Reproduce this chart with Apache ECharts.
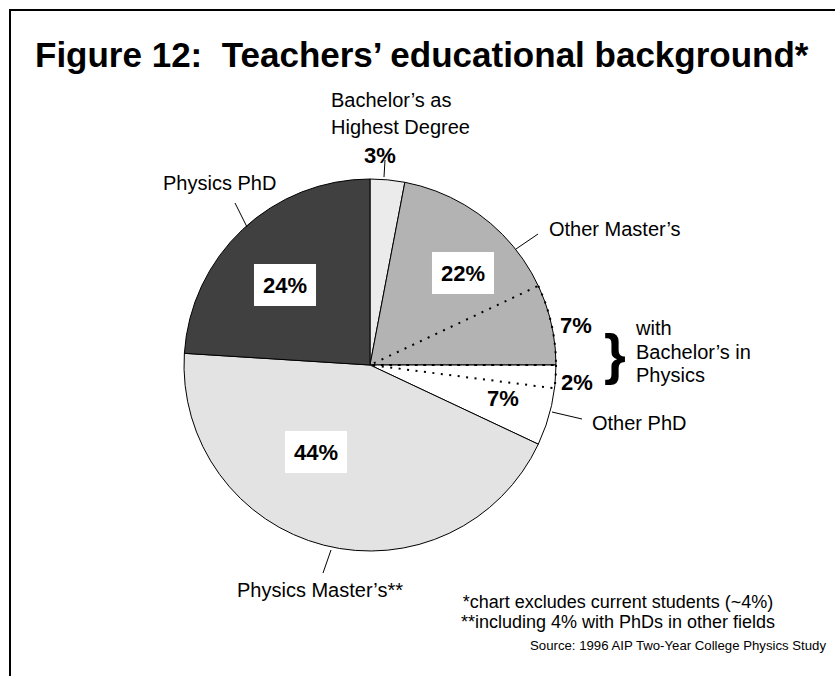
<!DOCTYPE html>
<html>
<head>
<meta charset="utf-8">
<script src="https://cdn.jsdelivr.net/npm/echarts@6/dist/echarts.min.js"></script>
<style>
  html, body { margin: 0; padding: 0; background: #fff; }
  #chart { width: 835px; height: 676px; }
</style>
</head>
<body>
<div id="chart"></div>
<script>
// data, clockwise from 12 o'clock
const categories = ["Bachelor's as Highest Degree", "Other Master's", "Other PhD", "Physics Master's**", "Physics PhD"];
const shares = [3, 22, 7, 44, 24];
// part of each group that holds a bachelor's in physics
const withPhysicsBachelors = [0, 7, 2, 0, 0];
const sliceColors = ['#ebebeb', '#b3b3b3', '#ffffff', '#e3e3e3', '#404040'];

const FONT = '"Liberation Sans", Arial, sans-serif';

// where the percentage labels go (px)
const pctPos = [[380, 155], [463, 273], [503, 398], [316, 452], [285, 285]];
const boxed = [false, true, false, true, true];
const subPos = { 2: [576, 325], 3: [577, 382] };

// dotted split: other master's part sits at the end, other phd part at the start
let dotted = [];
let dottedShow = [];
shares.forEach((v, i) => {
    let p = withPhysicsBachelors[i];
    if (!p) { dotted.push(v); dottedShow.push(false); }
    else if (i === 1) { dotted.push(v - p, p); dottedShow.push(false, true); }
    else { dotted.push(p, v - p); dottedShow.push(true, false); }
});

let chartDom = document.getElementById('chart');
let myChart = echarts.init(chartDom, null, { renderer: 'svg' });

const center = [370, 365];
const radius = 186;

function txt(x, y, text, size, opts) {
    return {
        type: 'text', x: x, y: y, z: 100,
        style: Object.assign({
            text: text, font: `${size}px ${FONT}`, fill: '#000',
            textAlign: 'left', textVerticalAlign: 'middle'
        }, opts || {})
    };
}
function ln(x1, y1, x2, y2) {
    return { type: 'line', z: 100, shape: { x1: x1, y1: y1, x2: x2, y2: y2 }, style: { stroke: '#000', lineWidth: 1 } };
}

let option = {
    backgroundColor: '#fff',
    animation: false,
    series: [
        {
            type: 'pie',
            silent: true,
            center: center,
            radius: radius,
            startAngle: 90,
            clockwise: true,
            avoidLabelOverlap: false,
            itemStyle: { borderColor: '#000', borderWidth: 1 },
            emphasis: { disabled: true },
            label: {
                show: true,
                position: 'inside',
                formatter: p => p.value + '%',
                fontFamily: FONT,
                fontWeight: 'bold',
                fontSize: 22,
                color: '#000'
            },
            labelLine: { show: false },
            labelLayout: function (params) {
                let pos = pctPos[params.dataIndex];
                return { x: pos[0], y: pos[1], align: 'center', verticalAlign: 'middle' };
            },
            data: shares.map((v, i) => ({
                name: categories[i],
                value: v,
                itemStyle: { color: sliceColors[i] },
                label: boxed[i] ? { backgroundColor: '#fff', padding: [10, 9], lineHeight: 22 } : {}
            }))
        },
        {
            // the two dotted splits "with bachelor's in physics"
            type: 'pie',
            silent: true,
            center: center,
            radius: radius,
            startAngle: 90,
            clockwise: true,
            avoidLabelOverlap: false,
            emphasis: { disabled: true },
            itemStyle: { color: 'rgba(0,0,0,0)', borderWidth: 0 },
            label: {
                show: true,
                position: 'inside',
                formatter: p => p.value + '%',
                fontFamily: FONT,
                fontWeight: 'bold',
                fontSize: 22,
                color: '#000'
            },
            labelLine: { show: false },
            labelLayout: function (params) {
                let pos = subPos[params.dataIndex];
                if (!pos) return {};
                return { x: pos[0], y: pos[1], align: 'center', verticalAlign: 'middle' };
            },
            data: dotted.map((v, i) => ({
                value: v,
                label: { show: dottedShow[i] },
                itemStyle: dottedShow[i]
                    ? { borderColor: '#000', borderWidth: 2, borderType: [2, 6.5], borderCap: 'butt' }
                    : {}
            }))
        }
    ],
    graphic: [
        // frame
        { type: 'polyline', z: 100, shape: { points: [[10, 676], [10, 10], [835, 10]] }, style: { stroke: '#000', lineWidth: 2, fill: null } },
        txt(35, 54, 'Figure 12:  Teachers\u2019 educational background*', 35, { font: `bold 35px ${FONT}` }),
        txt(331, 100, 'Bachelor\u2019s as', 20),
        txt(331, 127, 'Highest Degree', 20),
        ln(385, 160, 384, 177),
        txt(163, 183, 'Physics PhD', 20),
        ln(235, 203, 247, 227),
        txt(549, 229, 'Other Master\u2019s', 20),
        ln(538, 234, 516, 249),
        txt(592, 423, 'Other PhD', 20),
        ln(582, 419, 552, 412),
        txt(237, 590, 'Physics Master\u2019s**', 20),
        ln(323, 573, 331, 550),
        txt(615, 353, '}', 56, { textAlign: 'center', font: `bold 56px ${FONT}` }),
        txt(636, 328, 'with', 20),
        txt(636, 352, 'Bachelor\u2019s in', 20),
        txt(636, 375, 'Physics', 20),
        txt(618, 602, '*chart excludes current students (~4%)', 18, { textAlign: 'center' }),
        txt(618, 622, '**including 4% with PhDs in other fields', 18, { textAlign: 'center' }),
        txt(826, 645, 'Source: 1996 AIP Two-Year College Physics Study', 13.2, { textAlign: 'right' })
    ]
};

option && myChart.setOption(option);
</script>
</body>
</html>
